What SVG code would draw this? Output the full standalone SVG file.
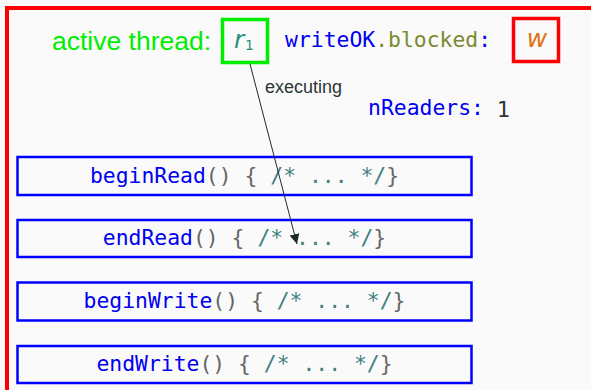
<svg xmlns="http://www.w3.org/2000/svg" width="591" height="390" viewBox="0 0 591 390">
<defs>
<style>
.mono{font-family:"DejaVu Sans Mono",monospace;font-size:21.4px}
.fn{fill:#0000f0}
.p{fill:#666}
.c{fill:#408080}
.box{fill:none;stroke:#0000ff;stroke-width:2.5}
.sans{font-family:"Liberation Sans",Arial,sans-serif}
.dv{font-family:"DejaVu Sans",sans-serif}
</style>
<marker id="ah" viewBox="0 0 10 10" refX="10" refY="5" markerWidth="10" markerHeight="10" markerUnits="userSpaceOnUse" orient="auto">
<path d="M0,0 L10,5 L0,10 z" fill="#1e2a2a"/>
</marker>
</defs>
<rect width="591" height="390" fill="#fafafa"/>
<rect x="7" y="8" width="600" height="400" fill="none" stroke="#ff0000" stroke-width="4"/>
<g id="active">
<text x="52" y="50" class="sans" font-size="26.5" fill="#00ee00">active thread:</text>
<rect x="222.5" y="19.5" width="45" height="43" fill="none" stroke="#00ee00" stroke-width="3.5"/>
<text x="234" y="48" class="dv" font-size="25" font-style="italic" fill="#2a9080">r</text>
<text x="245" y="50" class="dv" font-size="14" fill="#2a9080">1</text>
</g>
<g id="blocked">
<text x="285" y="47" class="mono"><tspan class="fn">writeOK</tspan><tspan fill="#7a8a30">.blocked</tspan><tspan class="fn">:</tspan></text>
<rect x="513.5" y="18.5" width="45" height="43" fill="none" stroke="#ff0000" stroke-width="3.5"/>
<text x="537" y="47" class="dv" font-size="25" font-style="italic" fill="#e07010" text-anchor="middle">w</text>
</g>
<g id="nreaders">
<text x="368" y="115" class="mono fn">nReaders:</text>
<text x="497" y="117" class="dv" font-size="21" fill="#2a3535">1</text>
</g>
<g id="beginRead">
<rect x="17.5" y="157" width="454" height="38" class="box"/>
<text x="244.5" y="183" class="mono" text-anchor="middle"><tspan class="fn">beginRead</tspan><tspan class="p">() { </tspan><tspan class="c">/* ... */</tspan><tspan class="p">}</tspan></text>
</g>
<g id="endRead">
<rect x="17.5" y="220" width="454" height="37" class="box"/>
<text x="244.5" y="245" class="mono" text-anchor="middle"><tspan class="fn">endRead</tspan><tspan class="p">() { </tspan><tspan class="c">/* ... */</tspan><tspan class="p">}</tspan></text>
</g>
<g id="beginWrite">
<rect x="17.5" y="282.5" width="454" height="38" class="box"/>
<text x="244.5" y="308" class="mono" text-anchor="middle"><tspan class="fn">beginWrite</tspan><tspan class="p">() { </tspan><tspan class="c">/* ... */</tspan><tspan class="p">}</tspan></text>
</g>
<g id="endWrite">
<rect x="17.5" y="346" width="454" height="37" class="box"/>
<text x="244.5" y="371" class="mono" text-anchor="middle"><tspan class="fn">endWrite</tspan><tspan class="p">() { </tspan><tspan class="c">/* ... */</tspan><tspan class="p">}</tspan></text>
</g>
<g id="connectors">
<line x1="250" y1="64" x2="297" y2="244" stroke="#1e2a2a" stroke-width="1" marker-end="url(#ah)"/>
<text x="265" y="93" class="sans" font-size="18" fill="#2a3535">executing</text>
</g>
</svg>
